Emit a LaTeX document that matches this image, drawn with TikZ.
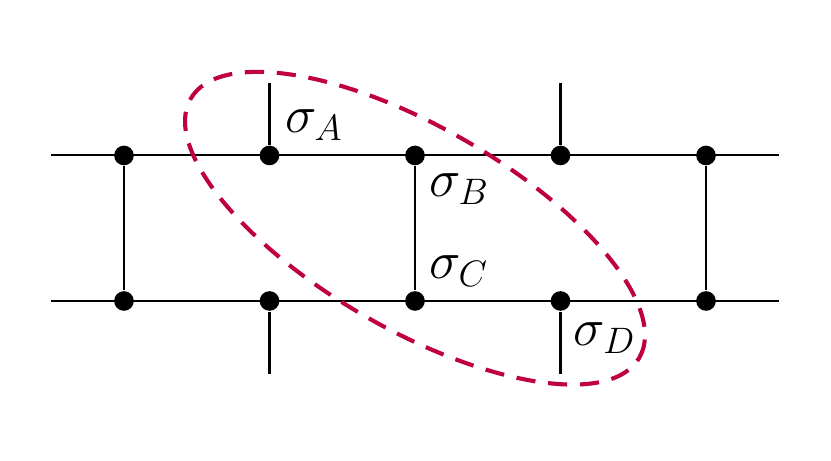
\documentclass[tikz,border=0pt]{standalone}
\usepackage{amsmath}
\usepackage[dvipsnames]{xcolor}
\usepackage{tikz}

\begin{document}
\begin{tikzpicture}[line width=0.8pt,
			dot/.style={circle,fill=black,inner sep=0pt,minimum size=0.27cm},
			spin/.style={inner sep=0pt,font=\huge}]
		\useasboundingbox (-1.704,-2.186) rectangle (9.718,4.137);

		% lattice sites
		\foreach \i/\x in {1/0,2/2,3/4,4/6,5/8} {
			\node[dot] (t\i) at (\x,2) {};
			\node[dot] (b\i) at (\x,0) {};
		}
		\coordinate (tl) at (-1,2);
		\coordinate (tr) at (9,2);
		\coordinate (bl) at (-1,0);
		\coordinate (br) at (9,0);
		\coordinate (u2) at (2,3);
		\coordinate (u4) at (6,3);
		\coordinate (d2) at (2,-1);
		\coordinate (d4) at (6,-1);

		\draw (tl) -- (tr);
		\draw (bl) -- (br);
		\draw (t1) -- (b1);
		\draw (t3) -- (b3);
		\draw (t5) -- (b5);
		\draw (t2) -- (u2);
		\draw (t4) -- (u4);
		\draw (b2) -- (d2);
		\draw (b4) -- (d4);

		% labels
		\node[spin,anchor=south west,xshift=0.2cm,yshift=0.19cm] (sA) at (t2.center) {$\sigma_A$};
		\node[spin,anchor=north west,xshift=0.18cm,yshift=-0.23cm] (sB) at (t3.center) {$\sigma_B$};
		\node[spin,anchor=south west,xshift=0.18cm,yshift=0.19cm] (sC) at (b3.center) {$\sigma_C$};
		\node[spin,anchor=north west,xshift=0.17cm,yshift=-0.28cm] (sD) at (b4.center) {$\sigma_D$};

		% cluster
		\draw[purple,line width=1.6pt,dash pattern=on 7.5pt off 5pt,rotate around={-30:(4,1)}]
		(4,1) ellipse (3.56cm and 1.39cm);
	\end{tikzpicture}
\end{document}
